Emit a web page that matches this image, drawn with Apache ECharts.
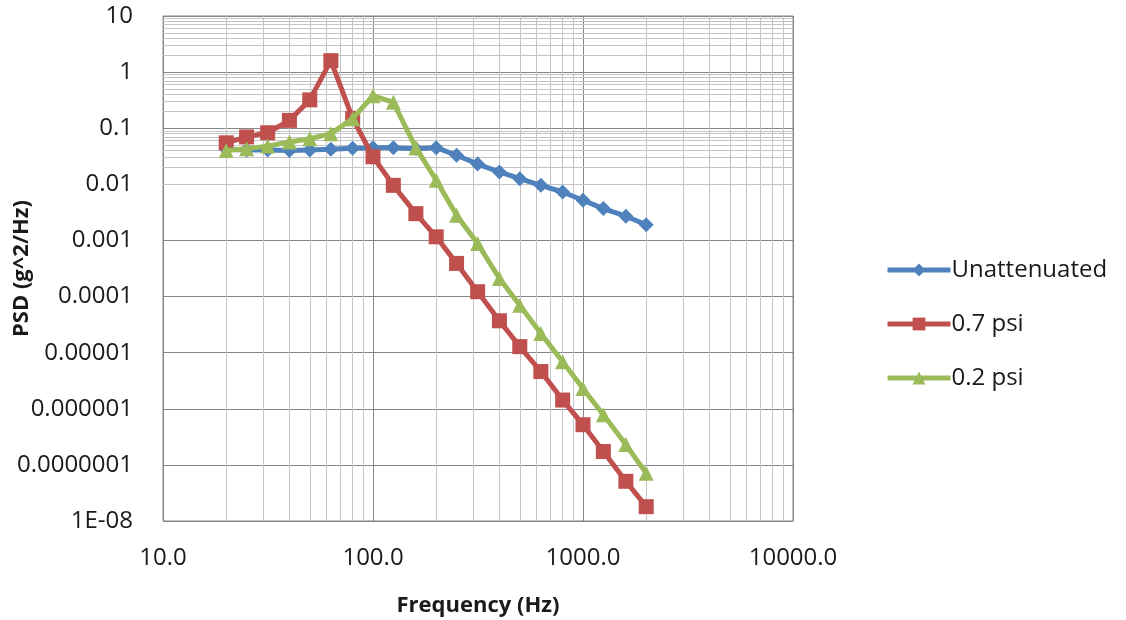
<!DOCTYPE html>
<html>
<head>
<meta charset="utf-8">
<script src="https://cdn.jsdelivr.net/npm/echarts@6/dist/echarts.min.js"></script>
<style>
html,body{margin:0;padding:0;background:#fff;}
#chart{width:1126px;height:620px;}
</style>
</head>
<body>
<div id="chart"></div>
<script>
// Frequencies (Hz), 1/3-octave bands
const freq = [20, 25, 31.5, 40, 50, 63, 80, 100, 125, 160, 200, 250, 315, 400, 500, 630, 800, 1000, 1250, 1600, 2000];
// PSD values (g^2/Hz)
const unattenuated = [0.042, 0.041, 0.041, 0.040, 0.041, 0.042, 0.044, 0.045, 0.045, 0.043, 0.045, 0.033, 0.023, 0.0166, 0.0126, 0.0096, 0.0073, 0.0052, 0.0037, 0.0027, 0.0019];
const psi07 = [0.055, 0.07, 0.083, 0.138, 0.32, 1.6, 0.15, 0.031, 0.0096, 0.003, 0.00116, 0.00039, 0.000122, 0.000037, 0.0000128, 0.0000046, 0.00000143, 0.00000052, 0.000000173, 0.000000051, 0.000000018];
const psi02 = [0.040, 0.043, 0.048, 0.057, 0.065, 0.08, 0.148, 0.38, 0.29, 0.045, 0.0118, 0.0028, 0.00088, 0.00021, 0.00007, 0.000022, 0.0000069, 0.0000023, 0.00000078, 0.00000023, 0.000000071];

const seriesNames = ['Unattenuated', '0.7 psi', '0.2 psi'];
// tick labels keyed by decade exponent
const yTickLabels = {1:'10', 0:'1', '-1':'0.1', '-2':'0.01', '-3':'0.001', '-4':'0.0001', '-5':'0.00001', '-6':'0.000001', '-7':'0.0000001', '-8':'1E-08'};
const xTickLabels = {1:'10.0', 2:'100.0', 3:'1000.0', 4:'10000.0'};

// minor log grid lines (2..9 within each decade)
const xMinor = [];
[10, 100, 1000].forEach(d => { for (let k = 2; k <= 9; k++) xMinor.push(k * d); });
const yMinor = [];
for (let e = -8; e <= 0; e++) { for (let k = 2; k <= 9; k++) yMinor.push(k * Math.pow(10, e)); }

const pair = (xs, ys) => xs.map((x, i) => [x, ys[i]]);

const FONT = '"Open Sans", "Liberation Sans", sans-serif';
const chart = echarts.init(document.getElementById('chart'), null, {renderer: 'canvas'});
chart.setOption({
  animation: false,
  backgroundColor: '#ffffff',
  grid: {left: 163, right: 333, top: 16, bottom: 99, containLabel: false, outerBoundsMode: 'none',
    show: true, borderColor: '#868686', borderWidth: 1, backgroundColor: 'transparent'},
  legend: {
    data: seriesNames,
    orient: 'vertical',
    left: 885,
    top: 258,
    padding: 0,
    itemWidth: 63,
    itemHeight: 16,
    itemGap: 30,
    lineStyle: {width: 5},
    textStyle: {fontFamily: FONT, fontSize: 24, color: '#1a1a1a', padding: [0,0,0,-4]}
  },
  xAxis: {
    type: 'log', logBase: 10, min: 10, max: 10000, splitNumber: 3,
    name: 'Frequency (Hz)', nameLocation: 'middle', nameGap: 74, nameMoveOverlap: false,
    nameTextStyle: {fontFamily: FONT, fontSize: 22, fontWeight: 'bold', color: '#1a1a1a'},
    axisLine: {show: false}, axisTick: {show: false},
    axisLabel: {margin: 25, fontFamily: FONT, fontSize: 24, color: '#1a1a1a',
      formatter: v => xTickLabels[Math.round(Math.log10(v))] || ''},
    splitLine: {show: true, lineStyle: {color: '#868686', width: 1}}
  },
  yAxis: {
    type: 'log', logBase: 10, min: 1e-8, max: 10, splitNumber: 9,
    name: 'PSD (g^2/Hz)', nameLocation: 'middle', nameGap: 130, nameMoveOverlap: false,
    nameTextStyle: {fontFamily: FONT, fontSize: 22, fontWeight: 'bold', color: '#1a1a1a'},
    axisLine: {show: false}, axisTick: {show: false},
    axisLabel: {margin: 30, fontFamily: FONT, fontSize: 24, color: '#1a1a1a',
      formatter: v => yTickLabels[Math.round(Math.log10(v))] || ''},
    splitLine: {show: true, lineStyle: {color: '#868686', width: 1}}
  },
  series: [
    {
      name: 'minor-grid', type: 'line', data: [], z: 0, silent: true,
      markLine: {
        z: 0,
        silent: true, symbol: ['none', 'none'], animation: false,
        label: {show: false},
        lineStyle: {color: '#c4c4c4', width: 1, type: 'solid'},
        emphasis: {disabled: true},
        data: xMinor.map(v => ({xAxis: v})).concat(yMinor.map(v => ({yAxis: v})))
      }
    },
    {
      name: seriesNames[0], type: 'line', z: 3,
      data: pair(freq, unattenuated),
      symbol: 'diamond', symbolSize: 15,
      lineStyle: {width: 5, color: '#4F81BD'},
      itemStyle: {color: '#4F81BD'}
    },
    {
      name: seriesNames[1], type: 'line', z: 4,
      data: pair(freq, psi07),
      symbol: 'rect', symbolSize: 15,
      lineStyle: {width: 5, color: '#C0504D'},
      itemStyle: {color: '#C0504D'}
    },
    {
      name: seriesNames[2], type: 'line', z: 5,
      data: pair(freq, psi02),
      symbol: 'triangle', symbolSize: 15,
      lineStyle: {width: 5, color: '#9BBB59'},
      itemStyle: {color: '#9BBB59'}
    }
  ]
});
</script>
</body>
</html>
